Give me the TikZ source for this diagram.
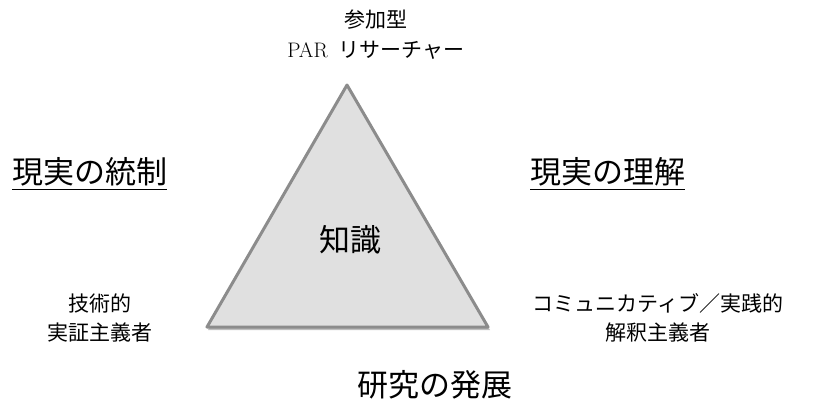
\documentclass[tikz,border=0pt]{standalone}
\usepackage{fontspec}
\usetikzlibrary{calc}
\newfontfamily\cjk{Noto Sans CJK JP}
\definecolor{trifill}{HTML}{E0E0E0}
\definecolor{triline}{HTML}{8C8C8C}
\begin{document}
\begin{tikzpicture}[x=1pt,y=-1pt,
  big/.style={font=\cjk\fontsize{31}{34}\selectfont, inner sep=0pt},
  small/.style={font=\cjk\fontsize{21}{30}\selectfont, inner sep=0pt, align=center}]
\useasboundingbox (0,0) rectangle (815,410);
% shadow
\fill[black!25] (348,88) -- (490,330) -- (208,330) -- cycle;
\draw[draw=triline, fill=trifill, line width=3pt, line join=round] (347,85) coordinate (apex) -- (488,327) coordinate (br) -- (207,327) coordinate (bl) -- cycle;
\node[big] (know) at (350,240) {知識};
\node[small] (par1) at (376,20) {参加型};
\node[small] (par2) at (376,50) {{\fontfamily{lmr}\selectfont PAR\ } リサーチャー};
\node[big, anchor=base west] (ctrl) at (12,183) {現実の統制};
\draw[line width=1pt] ($(ctrl.base west)+(0,6)$) -- ($(ctrl.base east)+(0,6)$);
\node[big, anchor=base west] (und) at (530,183) {現実の理解};
\draw[line width=1pt] ($(und.base west)+(0,6)$) -- ($(und.base east)+(0,6)$);
\node[small] (tech1) at (100,303) {技術的};
\node[small] (tech2) at (100,333) {実証主義者};
\node[small] (com1) at (658,303) {コミュニカティブ／実践的};
\node[small] (com2) at (658,333) {解釈主義者};
\node[big] (dev) at (435,385) {研究の発展};
\end{tikzpicture}
\end{document}
